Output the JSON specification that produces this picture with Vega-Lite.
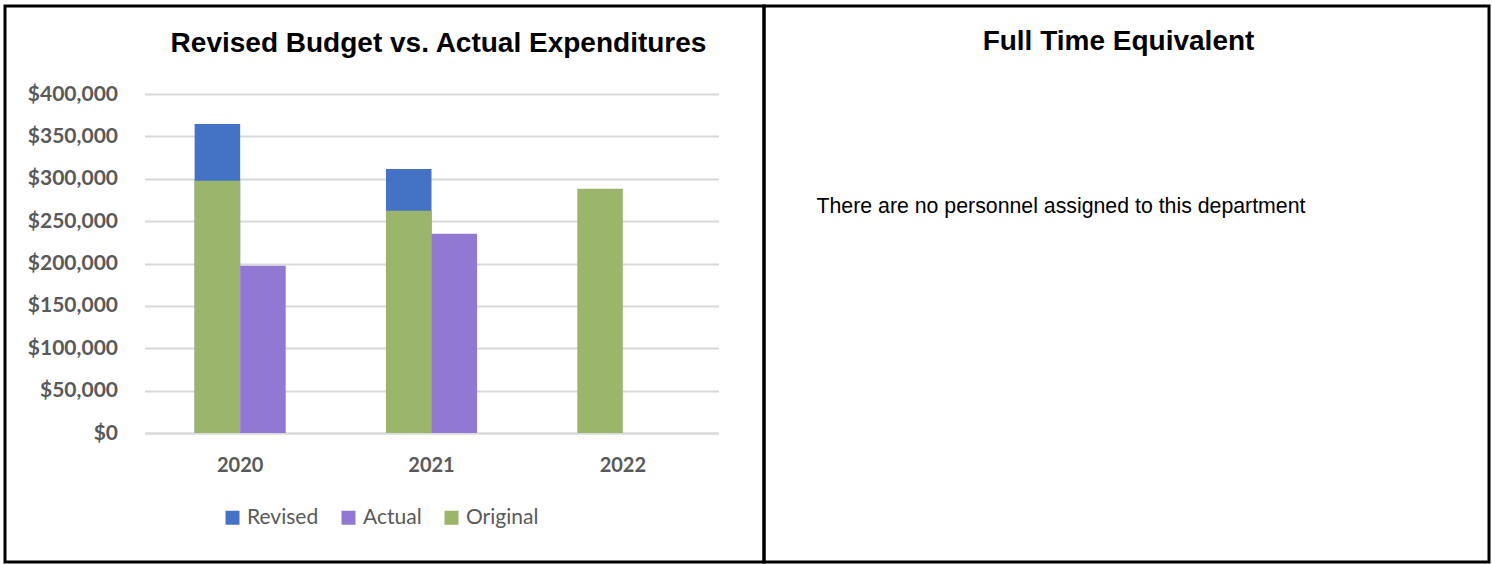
{
  "$schema": "https://vega.github.io/schema/vega-lite/v6.json",
  "background": "white",
  "padding": {"left": 3, "top": 4, "right": 2, "bottom": 1},
  "autosize": {"type": "pad"},
  "spacing": 0,
  "bounds": "flush",
  "config": {
    "view": {"stroke": "black", "strokeWidth": 3},
    "font": "Liberation Sans"
  },
  "hconcat": [
    {
      "width": 759,
      "height": 556,
      "title": {
        "text": "Revised Budget vs. Actual Expenditures",
        "font": "Liberation Sans",
        "fontSize": 28,
        "fontWeight": "bold",
        "color": "black",
        "anchor": "middle",
        "frame": "group",
        "offset": -52,
        "dx": 54
      },
      "data": {
        "values": [
          {"year": "2020", "series": "Revised", "slot": "Budget", "amount": 364600},
          {"year": "2021", "series": "Revised", "slot": "Budget", "amount": 311500},
          {"year": "2020", "series": "Original", "slot": "Budget", "amount": 297600},
          {"year": "2021", "series": "Original", "slot": "Budget", "amount": 262200},
          {"year": "2022", "series": "Original", "slot": "Budget", "amount": 288200},
          {"year": "2020", "series": "Actual", "slot": "Actual", "amount": 197300},
          {"year": "2021", "series": "Actual", "slot": "Actual", "amount": 235000}
        ]
      },
      "mark": {"type": "bar"},
      "encoding": {
        "x": {
          "field": "year",
          "type": "nominal",
          "scale": {"range": [139.5, 713.5], "paddingInner": 0.524, "paddingOuter": 0.262},
          "axis": {
            "orient": "bottom",
            "offset": -129,
            "title": null,
            "labelAngle": 0,
            "ticks": false,
            "tickSize": 0,
            "domainColor": "#D9D9D9",
            "domainWidth": 2,
            "labelPadding": 22,
            "labelFont": "Lato",
            "labelFontWeight": "bold",
            "labelFontSize": 20,
            "labelColor": "#595959",
            "grid": false
          }
        },
        "xOffset": {
          "field": "slot",
          "type": "nominal",
          "scale": {"domain": ["Budget", "Actual"], "paddingInner": 0, "paddingOuter": 0}
        },
        "y": {
          "field": "amount",
          "type": "quantitative",
          "stack": null,
          "scale": {"domain": [0, 400000], "range": [427, 88], "nice": false, "zero": true},
          "axis": {
            "orient": "left",
            "offset": -139.5,
            "title": null,
            "ticks": false,
            "tickSize": 0,
            "domain": false,
            "values": [0, 50000, 100000, 150000, 200000, 250000, 300000, 350000, 400000],
            "format": "$,.0f",
            "labelPadding": 27,
            "labelFont": "Lato",
            "labelFontWeight": "bold",
            "labelFontSize": 21,
            "labelColor": "#595959",
            "grid": true,
            "gridColor": "#D9D9D9",
            "gridWidth": 2
          }
        },
        "color": {
          "field": "series",
          "type": "nominal",
          "scale": {
            "domain": ["Revised", "Actual", "Original"],
            "range": ["#4472C4", "#9179D3", "#9BB56B"]
          },
          "legend": {
            "orient": "none",
            "legendX": 217,
            "legendY": 501,
            "direction": "horizontal",
            "title": null,
            "symbolType": "square",
            "symbolSize": 196,
            "symbolStrokeWidth": 0,
            "labelFont": "Lato",
            "labelFontSize": 21,
            "labelColor": "#595959",
            "labelOffset": 4,
            "columnPadding": 19
          }
        }
      }
    },
    {
      "width": 725,
      "height": 556,
      "title": {
        "text": "Full Time Equivalent",
        "font": "Liberation Sans",
        "fontSize": 28,
        "fontWeight": "bold",
        "color": "black",
        "anchor": "middle",
        "frame": "group",
        "offset": -50,
        "dx": -8
      },
      "data": {"values": [{"note": "There are no personnel assigned to this department"}]},
      "mark": {
        "type": "text",
        "align": "left",
        "baseline": "middle",
        "font": "Liberation Sans",
        "fontSize": 21.3,
        "color": "black",
        "dx": -310,
        "dy": -77
      },
      "encoding": {
        "text": {"field": "note"},
        "x": {"field": "note", "type": "nominal", "axis": null},
        "y": {"field": "note", "type": "nominal", "axis": null}
      }
    }
  ]
}
